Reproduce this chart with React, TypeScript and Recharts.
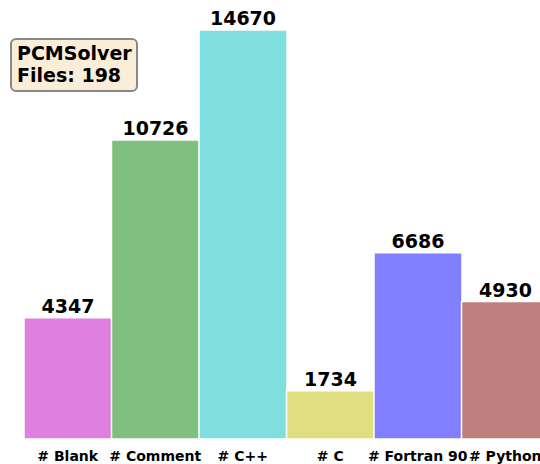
import React from "react";
import { BarChart, Bar, XAxis, YAxis, LabelList, Cell } from "recharts";

const categories = ["# Blank", "# Comment", "# C++", "# C", "# Fortran 90", "# Python"];
const lineCounts = [4347, 10726, 14670, 1734, 6686, 4930];
const barColors = ["#DF7FDF", "#7FBF7F", "#7FDFDF", "#DFDF7F", "#7F7FFF", "#BF7F7F"];
const boxTitle = "PCMSolver";
const boxFiles = "Files: 198";

const data = categories.map((name, i) => ({ name, value: lineCounts[i] }));

const FONT = "'DejaVu Sans', sans-serif";

export default function App() {
  return (
    <div
      style={{
        position: "absolute",
        left: 0,
        top: 0,
        width: 540,
        height: 464,
        overflow: "hidden",
        background: "#fff",
      }}
    >
      <BarChart
        width={549}
        height={470}
        data={data}
        margin={{ top: 0, right: 0, bottom: 0, left: 24 }}
        barCategoryGap={0}
      >
        <YAxis hide domain={[0, 15750]} />
        <XAxis
          dataKey="name"
          axisLine={false}
          tickLine={false}
          height={31}
          interval={0}
          tickMargin={6}
          tick={{ fontFamily: FONT, fontWeight: "bold", fontSize: 14, fill: "#000" }}
        />
        <Bar dataKey="value" isAnimationActive={false} stroke="#fff" strokeWidth={1.5}>
          {data.map((d, i) => (
            <Cell key={d.name} fill={barColors[i]} />
          ))}
          <LabelList
            dataKey="value"
            position="top"
            offset={5}
            style={{ fontFamily: FONT, fontWeight: "bold", fontSize: 19, fill: "#000" }}
          />
        </Bar>
      </BarChart>
      <div
        style={{
          position: "absolute",
          left: 10,
          top: 38,
          width: 119,
          height: 48,
          border: "2.5px solid #888888",
          borderRadius: 6,
          background: "#FAEED9",
          fontFamily: FONT,
          fontWeight: "bold",
          fontSize: 19,
          lineHeight: "22px",
          color: "#000",
          paddingLeft: 5,
          paddingTop: 2,
          boxSizing: "content-box",
        }}
      >
        <div>{boxTitle}</div>
        <div>{boxFiles}</div>
      </div>
    </div>
  );
}
